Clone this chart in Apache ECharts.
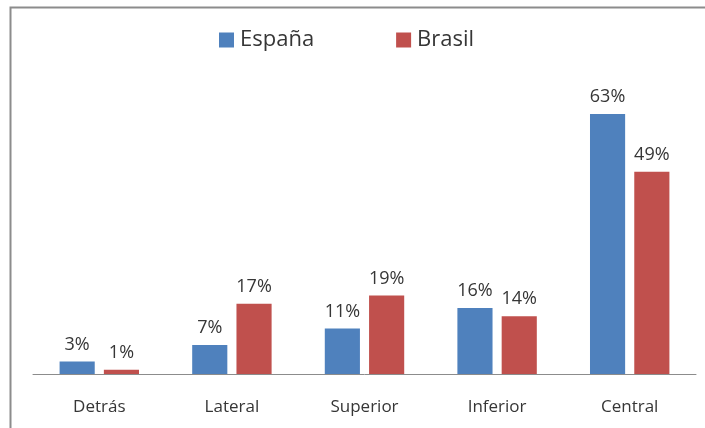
<!DOCTYPE html>
<html>
<head>
<meta charset="utf-8">
<script src="https://cdn.jsdelivr.net/npm/echarts@6/dist/echarts.min.js"></script>
<style>
  html, body { margin: 0; padding: 0; background: #fff; }
  #chart { width: 705px; height: 428px; }
</style>
</head>
<body>
<div id="chart"></div>
<script>
// datos
const categorias = ["Detrás", "Lateral", "Superior", "Inferior", "Central"];
const espana = [3, 7, 11, 16, 63];
const brasil = [1, 17, 19, 14, 49];

const fuente = "'Open Sans', 'DejaVu Sans', sans-serif";
const colorTexto = "#363636";

const chart = echarts.init(document.getElementById("chart"));
chart.setOption({
  backgroundColor: "#fff",
  animation: false,
  graphic: [
    {
      type: "rect",
      shape: { x: 10.5, y: 7.5, width: 720, height: 440 },
      style: { fill: "none", stroke: "#8c8c8c", lineWidth: 2 },
      silent: true
    }
  ],
  legend: {
    data: ["España", "Brasil"],
    top: 24,
    left: 214,
    itemWidth: 15,
    itemHeight: 15,
    itemGap: 82,
    icon: "rect",
    textStyle: { fontFamily: fuente, fontSize: 22, color: colorTexto, padding: [0, 0, 0, 1] }
  },
  grid: { left: 33, right: 9, top: 85, bottom: 54, containLabel: false },
  xAxis: {
    type: "category",
    data: categorias,
    axisLine: { show: true, lineStyle: { color: "#8c8c8c", width: 1 } },
    axisTick: { show: false },
    axisLabel: { fontFamily: fuente, fontSize: 17, color: colorTexto, margin: 25 }
  },
  yAxis: {
    type: "value",
    min: 0,
    max: 70,
    show: false,
    splitLine: { show: false }
  },
  series: [
    {
      name: "España",
      type: "bar",
      data: espana,
      barWidth: "26.5%",
      barGap: "26%",
      itemStyle: { color: "#4F81BD" },
      label: {
        show: true,
        position: "top",
        distance: 8,
        formatter: "{c}%",
        fontFamily: fuente,
        fontSize: 18,
        color: colorTexto
      }
    },
    {
      name: "Brasil",
      type: "bar",
      data: brasil,
      barWidth: "26.5%",
      barGap: "26%",
      itemStyle: { color: "#C0504D" },
      label: {
        show: true,
        position: "top",
        distance: 8,
        formatter: "{c}%",
        fontFamily: fuente,
        fontSize: 18,
        color: colorTexto
      }
    }
  ]
});
</script>
</body>
</html>
